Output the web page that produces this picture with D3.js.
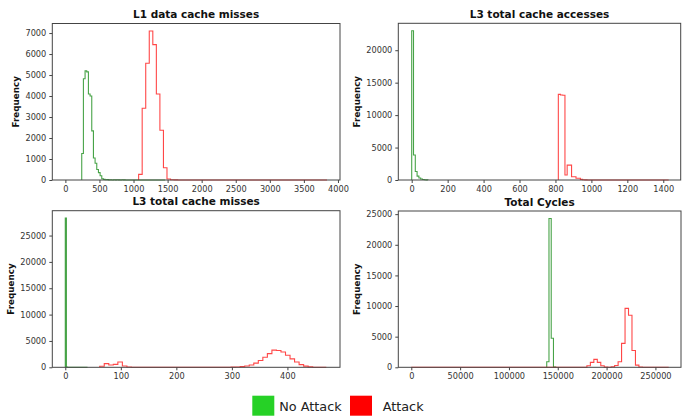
<!DOCTYPE html>
<html>
<head>
<meta charset="utf-8">
<script src="https://cdn.jsdelivr.net/npm/d3@7"></script>
<style>
  body { margin: 0; background: #fff; }
  text { font-family: "DejaVu Sans", sans-serif; }
</style>
</head>
<body>
<div id="container"></div>
<script>
/* CONSTANTS AND GLOBALS */
const width = 682, height = 419

/* DATA */
// each histogram: counts per bin, [first edge, bin width], [baseline from, baseline to]
const titles = ["L1 data cache misses", "L3 total cache accesses", "L3 total cache misses", "Total Cycles"]
const legendLabels = ["No Attack", "Attack"]

// L1 data cache misses
const l1NoAttack = [1260, 4820, 5200, 5150, 4100, 4000, 2340, 1050, 800, 500, 350, 200, 60, 30, 10, 20, 5, 10, 0, 15, 5, 10, 5, 0, 10, 5]
const l1NoAttackBin = [240, 24.5], l1NoAttackSpan = [240, 1465]
const l1Attack = [270, 3420, 5560, 7100, 6450, 4100, 2370, 580, 50, 15, 5]
const l1AttackBin = [1075, 52], l1AttackSpan = [1075, 3840]
const l1XTicks = [0, 500, 1000, 1500, 2000, 2500, 3000, 3500, 4000]
const l1YTicks = [0, 1000, 2000, 3000, 4000, 5000, 6000, 7000]

// L3 total cache accesses
const accNoAttack = [23000, 3850, 1300, 600, 300, 150, 80, 40, 20]
const accNoAttackBin = [0, 10], accNoAttackSpan = [0, 90]
const accAttack = [13200, 13100, 13050, 770, 2300, 2300, 510, 510, 260, 260, 100, 40, 20, 10]
const accAttackBin = [816, 12.28], accAttackSpan = [816, 1430]
const accXTicks = [0, 200, 400, 600, 800, 1000, 1200, 1400]
const accYTicks = [0, 5000, 10000, 15000, 20000]

// L3 total cache misses
const missNoAttack = [28300, 50, 10]
const missNoAttackBin = [0, 2], missNoAttackSpan = [0, 40]
const missAttack = [200, 700, 450, 550, 1000, 250, 60, 10,
  0, 0, 0, 0, 0, 0, 0, 0, 0, 0, 0, 0, 0, 0, 0, 0, 0, 0, 0,
  10, 20, 40, 70, 130, 250, 450, 800, 1300, 1900, 2600, 3250, 3200, 2900, 2300, 1600, 1000, 500, 220, 80, 20, 5, 0]
const missAttackBin = [62, 8.16], missAttackSpan = [62, 470]
const missXTicks = [0, 100, 200, 300, 400]
const missYTicks = [0, 5000, 10000, 15000, 20000, 25000]

// Total Cycles
const cycNoAttack = [900, 24300, 4750, 50]
const cycNoAttackBin = [138700, 2300], cycNoAttackSpan = [138700, 147900]
const cycAttack = [260, 800, 1300, 800, 260, 30, 0, 100, 300, 900, 3900, 9620, 8500, 2750, 350, 50]
const cycAttackBin = [179850, 3550], cycAttackSpan = [0, 263600]
const cycXTicks = [0, 50000, 100000, 150000, 200000, 250000]
const cycYTicks = [0, 5000, 10000, 15000, 20000, 25000]

const panels = [
  { box: [52.3, 340, 23.5, 180], x: [-192, 4030], y: [0, 7455], ylab: 15.7,
    series: [[l1NoAttack, l1NoAttackBin, l1NoAttackSpan], [l1Attack, l1AttackBin, l1AttackSpan]],
    xt: l1XTicks, yt: l1YTicks },
  { box: [398.3, 680.7, 23.3, 180], x: [-74.6, 1497], y: [0, 24150], ylab: 357,
    series: [[accNoAttack, accNoAttackBin, accNoAttackSpan], [accAttack, accAttackBin, accAttackSpan]],
    xt: accXTicks, yt: accYTicks },
  { box: [52.3, 340, 210.7, 367.3], x: [-23.4, 494.7], y: [0, 29715], ylab: 11,
    series: [[missNoAttack, missNoAttackBin, missNoAttackSpan], [missAttack, missAttackBin, missAttackSpan]],
    xt: missXTicks, yt: missYTicks },
  { box: [398.3, 681, 211, 367.3], x: [-13300, 276200], y: [0, 25515], ylab: 357,
    series: [[cycNoAttack, cycNoAttackBin, cycNoAttackSpan], [cycAttack, cycAttackBin, cycAttackSpan]],
    xt: cycXTicks, yt: cycYTicks }
]
const lineColors = ["green", "red"]
const legendColors = ["#26d126", "#ff0000"]

/* HTML ELEMENTS */
const svg = d3.select("#container")
  .append("svg")
  .attr("width", width)
  .attr("height", height)

panels.forEach((p, i) => {
  const [l, r, t, b] = p.box
  const xScale = d3.scaleLinear().domain(p.x).range([l, r])
  const yScale = d3.scaleLinear().domain(p.y).range([b, t])

  const g = svg.append("g")

  g.append("clipPath").attr("id", "clip" + i)
    .append("rect").attr("x", l).attr("y", t - 1).attr("width", r - l).attr("height", b - t + 2)

  // step histograms
  const line = d3.line().x(d => xScale(d[0])).y(d => yScale(d[1]))
  p.series.forEach(([counts, bin, span], k) => {
    const pts = [[span[0], 0], [bin[0], 0]]
    counts.forEach((c, j) => {
      pts.push([bin[0] + j * bin[1], c])
      pts.push([bin[0] + (j + 1) * bin[1], c])
    })
    pts.push([bin[0] + counts.length * bin[1], 0], [span[1], 0])
    g.append("path")
      .attr("clip-path", `url(#clip${i})`)
      .attr("d", line(pts))
      .attr("fill", "none")
      .attr("stroke", lineColors[k])
      .attr("stroke-opacity", 0.72)
      .attr("stroke-width", 1.1)
  })

  // axes
  const xAxis = d3.axisBottom(xScale).tickValues(p.xt).tickFormat(d3.format("d")).tickSize(3).tickPadding(3).tickSizeOuter(0)
  const yAxis = d3.axisLeft(yScale).tickValues(p.yt).tickFormat(d3.format("d")).tickSize(3).tickPadding(3).tickSizeOuter(0)
  g.append("g").attr("transform", `translate(0,${b})`).call(xAxis)
  g.append("g").attr("transform", `translate(${l},0)`).call(yAxis)
  g.selectAll(".tick text").attr("font-size", 8.2).attr("fill", "#333").attr("font-family", "DejaVu Sans")
  g.selectAll(".tick line").attr("stroke", "#444")
  g.selectAll(".domain").remove()

  // frame
  g.append("rect")
    .attr("x", l).attr("y", t).attr("width", r - l).attr("height", b - t)
    .attr("fill", "none").attr("stroke", "#444").attr("stroke-width", 1)

  g.append("text")
    .attr("x", (l + r) / 2).attr("y", t - 5.5)
    .attr("text-anchor", "middle")
    .attr("font-size", 10.5).attr("font-weight", "bold").attr("fill", "#111")
    .text(titles[i])

  g.append("text")
    .attr("transform", `translate(${p.ylab},${(t + b) / 2}) rotate(-90)`)
    .attr("dy", "0.35em")
    .attr("text-anchor", "middle")
    .attr("font-size", 8.8).attr("font-weight", "bold").attr("fill", "#111")
    .text("Frequency")
})

// legend
const legendX = [252.3, 350]
legendLabels.forEach((name, i) => {
  svg.append("rect")
    .attr("x", legendX[i]).attr("y", 395.7).attr("width", 22).attr("height", 20)
    .attr("fill", legendColors[i])
  svg.append("text")
    .attr("x", legendX[i] + (i === 0 ? 27 : 32.7)).attr("y", 410.5)
    .attr("font-family", "Open Sans").attr("font-size", 12.8).attr("fill", "#222")
    .text(name)
})
</script>
</body>
</html>
